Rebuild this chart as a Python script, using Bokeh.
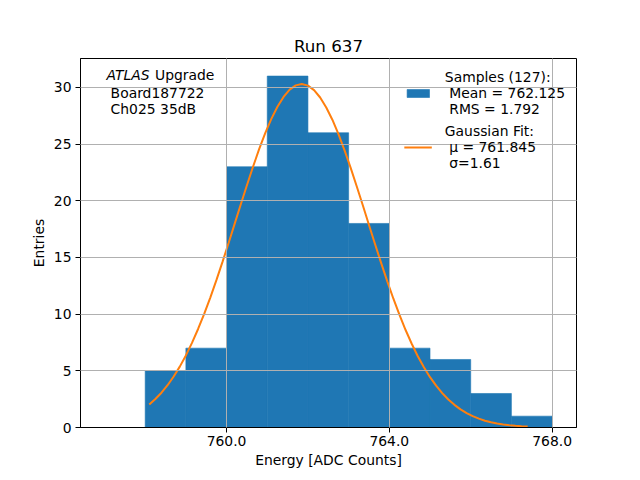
from bokeh.plotting import figure
from bokeh.models import Range1d, FixedTicker, Label, Legend, LegendItem
from bokeh.embed import file_html
from bokeh.resources import INLINE

# ---- data ----
bin_left = [758, 759, 760, 761, 762, 763, 764, 765, 766, 767]
bin_right = [759, 760, 761, 762, 763, 764, 765, 766, 767, 768]
counts = [5, 7, 23, 31, 26, 18, 7, 6, 3, 1]

fit_x = [758.10, 758.25, 758.40, 758.55, 758.70, 758.85, 759.00, 759.15,
         759.30, 759.45, 759.60, 759.75, 759.90, 760.05, 760.20, 760.35,
         760.50, 760.65, 760.80, 760.95, 761.10, 761.25, 761.40, 761.55,
         761.70, 761.85, 762.00, 762.15, 762.30, 762.45, 762.60, 762.75,
         762.90, 763.05, 763.20, 763.35, 763.50, 763.65, 763.80, 763.95,
         764.10, 764.25, 764.40, 764.55, 764.70, 764.85, 765.00, 765.15,
         765.30, 765.45, 765.60, 765.75, 765.90, 766.05, 766.20, 766.35,
         766.50, 766.65, 766.80, 766.95, 767.10, 767.25, 767.40]
fit_y = [2.03, 2.51, 3.07, 3.73, 4.50, 5.37, 6.36, 7.46,
         8.69, 10.02, 11.46, 13.00, 14.61, 16.28, 17.98, 19.69,
         21.37, 23.00, 24.55, 25.96, 27.22, 28.30, 29.16, 29.80,
         30.18, 30.30, 30.16, 29.76, 29.11, 28.23, 27.15, 25.87,
         24.45, 22.90, 21.26, 19.58, 17.86, 16.16, 14.50, 12.89,
         11.36, 9.93, 8.60, 7.39, 6.29, 5.31, 4.44, 3.69,
         3.03, 2.47, 2.00, 1.60, 1.27, 1.00, 0.78, 0.60,
         0.46, 0.35, 0.27, 0.20, 0.15, 0.11, 0.08]

x_ticks = [760, 764, 768]
x_tick_labels = ["760.0", "764.0", "768.0"]
y_ticks = [0, 5, 10, 15, 20, 25, 30]

title_text = "Run 637"
x_label = "Energy [ADC Counts]"
y_label = "Entries"
samples_label = "Samples (127):\n Mean = 762.125\n RMS = 1.792"
fit_label = "Gaussian Fit:\n \u03bc = 761.845\n \u03c3=1.61"

FONT = "DejaVu Sans"
BLUE = "#1f77b4"
ORANGE = "#ff7f0e"
BLACK = "black"

p = figure(frame_width=496, frame_height=369,
           min_border_left=80, min_border_right=56,
           min_border_top=58, min_border_bottom=45,
           x_range=Range1d(756.41, 768.6), y_range=Range1d(0, 32.55),
           output_backend="svg", toolbar_location=None, title=title_text)

p.title.align = "center"
p.title.text_font = FONT
p.title.text_font_size = "16.7px"
p.title.text_font_style = "normal"
p.title.text_color = BLACK
p.title.standoff = 6

p.outline_line_color = BLACK
p.outline_line_width = 1
p.outline_line_alpha = 1
p.background_fill_color = "white"
p.border_fill_color = "white"

bars = p.quad(left=bin_left, right=bin_right, bottom=0, top=counts,
              fill_color=BLUE, line_color=BLUE, line_width=0.6)
curve = p.line(fit_x, fit_y, line_color=ORANGE, line_width=2)

for ax in (p.xaxis[0], p.yaxis[0]):
    ax.major_label_text_font = FONT
    ax.major_label_text_font_size = "13.9px"
    ax.major_label_text_color = BLACK
    ax.axis_label_text_font = FONT
    ax.axis_label_text_font_size = "13.9px"
    ax.axis_label_text_font_style = "normal"
    ax.axis_label_text_color = BLACK
    ax.major_tick_in = 0
    ax.major_tick_out = 5
    ax.minor_tick_line_color = None
    ax.axis_line_color = BLACK
    ax.major_tick_line_color = BLACK
    ax.major_label_standoff = 4

p.xaxis[0].ticker = FixedTicker(ticks=x_ticks)
p.xaxis[0].major_label_overrides = {t: s for t, s in zip(x_ticks, x_tick_labels)}
p.xaxis[0].major_label_standoff = 3
p.yaxis[0].ticker = FixedTicker(ticks=y_ticks)
p.xaxis[0].axis_label = x_label
p.yaxis[0].axis_label = y_label
p.xaxis[0].axis_label_standoff = 3
p.yaxis[0].axis_label_standoff = 4

for g in (p.xgrid[0], p.ygrid[0]):
    g.grid_line_color = "#b0b0b0"
    g.grid_line_width = 1
    g.level = "overlay"

# annotation text, top-left
lab_kw = dict(text_font=FONT, text_font_size="13.9px", text_color=BLACK,
              text_baseline="middle", text_align="left")
p.add_layout(Label(x=757.05, y=31.1, text="ATLAS", text_font_style="italic", **lab_kw))
p.add_layout(Label(x=758.24, y=31.1, text="Upgrade", **lab_kw))
p.add_layout(Label(x=757.15, y=29.52, text="Board187722", **lab_kw))
p.add_layout(Label(x=757.15, y=28.12, text="Ch025 35dB", **lab_kw))

legend = Legend(items=[LegendItem(label=samples_label, renderers=[bars]),
                       LegendItem(label=fit_label, renderers=[curve])],
                location="top_right")
legend.background_fill_alpha = 0
legend.border_line_alpha = 0
legend.label_text_font = FONT
legend.label_text_font_size = "13.9px"
legend.label_text_color = BLACK
legend.label_text_line_height = 1.15
legend.glyph_width = 28
legend.glyph_height = 10
legend.label_standoff = 13
legend.margin = 1
legend.padding = 10
legend.spacing = 6
p.add_layout(legend)

open("out.html", "w").write(file_html(p, INLINE))
